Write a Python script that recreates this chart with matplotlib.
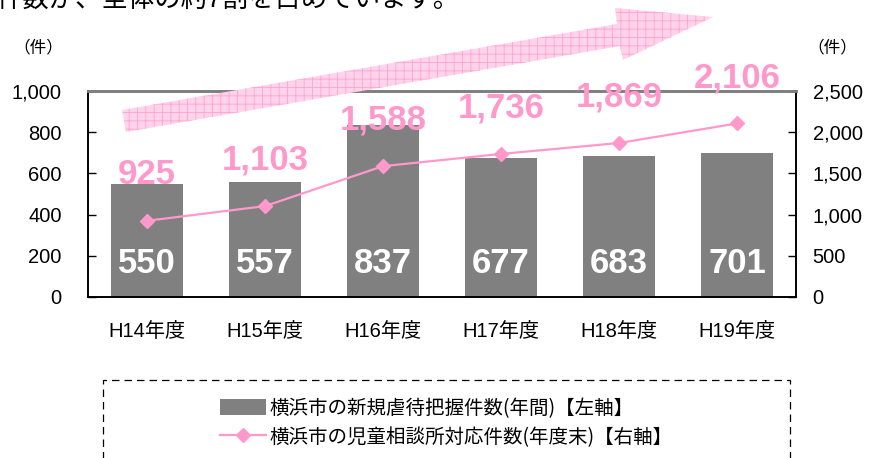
import matplotlib
matplotlib.use("Agg")
import matplotlib.pyplot as plt
from matplotlib.patches import Polygon, Rectangle, Patch
from matplotlib.lines import Line2D
from matplotlib.ticker import FuncFormatter

plt.rcParams['font.family'] = ['Liberation Sans', 'Noto Sans CJK JP', 'DejaVu Sans']
plt.rcParams['hatch.linewidth'] = 0.6

# データ
years = ["H14年度", "H15年度", "H16年度", "H17年度", "H18年度", "H19年度"]
new_cases = [550, 557, 837, 677, 683, 701]          # 左軸（棒）
consult_cases = [925, 1103, 1588, 1736, 1869, 2106]  # 右軸（折れ線）

label_bar = "横浜市の新規虐待把握件数(年間)【左軸】"
label_line = "横浜市の児童相談所対応件数(年度末)【右軸】"
headline = "件数が、全体の約7割を占めています。"

GRAY = "#808080"
PINK = "#FF99CC"
W, H = 870, 458

fig = plt.figure(figsize=(W / 100, H / 100), dpi=100)
ax = fig.add_axes([88 / W, 1 - 297 / H, (796 - 88) / W, (297 - 91) / H])
ax2 = ax.twinx()

x = list(range(len(years)))
ax.bar(x, new_cases, width=0.61, color=GRAY, zorder=2)
ax2.plot(x, consult_cases, color=PINK, lw=1.6, marker="D", markersize=7.5,
         markeredgecolor=PINK, markerfacecolor=PINK, zorder=3)

ax.set_xlim(-0.5, len(years) - 0.5)
ax.set_ylim(0, 1000)
ax2.set_ylim(0, 2500)
ax.set_yticks(range(0, 1001, 200))
ax2.set_yticks(range(0, 2501, 500))
fmt = FuncFormatter(lambda v, p: f"{int(v):,}")
ax.yaxis.set_major_formatter(fmt)
ax2.yaxis.set_major_formatter(fmt)
ax.set_xticks(x)
ax.set_xticklabels(years)

ax.tick_params(axis="x", length=0, labelsize=14.5, pad=18)
ax.tick_params(axis="y", direction="in", length=6, width=1, labelsize=14.5, pad=19)
ax2.tick_params(axis="y", direction="in", length=6, width=1, labelsize=14.5, pad=12)

for a in (ax, ax2):
    a.spines["top"].set_color(GRAY)
    a.spines["top"].set_linewidth(2)
    for s in ("left", "right", "bottom"):
        a.spines[s].set_color("black")
        a.spines[s].set_linewidth(1.2)

narrow = ['Liberation Sans Narrow', 'Liberation Sans']
for i, v in enumerate(new_cases):
    ax.text(i, 163, f"{v:,}", ha="center", va="center", color="white",
            fontsize=25, fontweight="bold", family=narrow, zorder=4)
for i, v in enumerate(consult_cases):
    ax2.annotate(f"{v:,}", (i, v), xytext=(0, 33), textcoords="offset points",
                 ha="center", va="center", color=PINK, fontsize=25,
                 fontweight="bold", family=narrow, zorder=5, annotation_clip=False)

# 単位
fig.text(38 / W, 1 - 47 / H, "（件）", ha="center", va="center", fontsize=12)
fig.text(832 / W, 1 - 47 / H, "（件）", ha="center", va="center", fontsize=12)

# 上の見出し（元画像でも上端で切れている）
fig.text(-4 / W, 1 + 1 / H, headline, ha="left", va="center", fontsize=19)

# 増加の矢印
arrow_px = [(122, 110), (617, 24), (615, 8), (713, 17), (623, 60), (620, 46), (126, 132)]
arrow = Polygon([(px / W, 1 - py / H) for px, py in arrow_px], closed=True,
                transform=fig.transFigure, facecolor="#FFD3EA", edgecolor="#FFA3D1",
                linewidth=0, hatch="++", zorder=0.5)
fig.patches.append(arrow)

# 凡例の点線枠
box = Rectangle((103 / W, 1 - 480 / H), (790 - 103) / W, 100 / H,
                transform=fig.transFigure, fill=False, edgecolor="black",
                linewidth=0.9, linestyle=(0, (6, 4)))
fig.patches.append(box)

handles = [Patch(facecolor=GRAY, edgecolor="none"),
           Line2D([0], [0], color=PINK, lw=1.6, marker="D", markersize=7.5)]
leg = fig.legend(handles, [label_bar, label_line], loc="upper left",
                 bbox_to_anchor=(210 / W, 1 - 388 / H), frameon=False,
                 prop={'family': ['Noto Sans CJK JP'], 'size': 14},
                 handlelength=2.4, handleheight=0.95, handletextpad=0.15,
                 labelspacing=0.42, borderpad=0)

fig.savefig("out.png", dpi=100)
